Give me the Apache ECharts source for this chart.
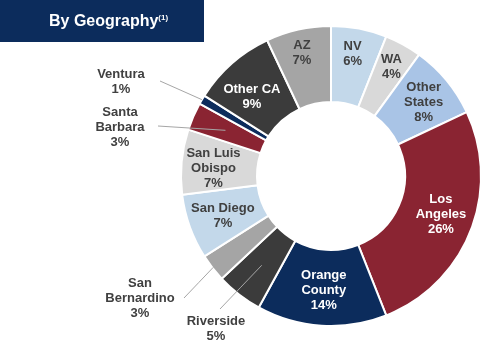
<!DOCTYPE html>
<html>
<head>
<meta charset="utf-8">
<script src="https://cdn.jsdelivr.net/npm/echarts@6/dist/echarts.min.js"></script>
<style>
html,body{margin:0;padding:0;background:#fff;}
#chart{width:503px;height:350px;}
</style>
</head>
<body>
<div id="chart"></div>
<script>
const categories = ['NV','WA','Other States','Los Angeles','Orange County','Riverside','San Bernardino','San Diego','San Luis Obispo','Santa Barbara','Ventura','Other CA','AZ'];
const displayNames = ['NV','WA','Other\nStates','Los\nAngeles','Orange\nCounty','Riverside','San\nBernardino','San Diego','San Luis\nObispo','Santa\nBarbara','Ventura','Other CA','AZ'];
const values = [6,4,8,26,14,5,3,7,7,3,1,9,7];
const title = 'By Geography';
const titleNote = '(1)';

const NAVY = '#0c2c5c', RED = '#8a2432', DARK = '#3b3b3b', MID = '#a5a5a5', LIGHT = '#d9d9d9', LBLUE = '#c3d8ea', SBLUE = '#a9c4e6';
const colors = {
  'NV': LBLUE, 'WA': LIGHT, 'Other States': SBLUE, 'Los Angeles': RED, 'Orange County': NAVY,
  'Riverside': DARK, 'San Bernardino': MID, 'San Diego': LBLUE, 'San Luis Obispo': LIGHT,
  'Santa Barbara': RED, 'Ventura': NAVY, 'Other CA': DARK, 'AZ': MID
};
const whiteText = ['Los Angeles','Orange County','Other CA'];
// layout: outside label centre, leader-line end near label, leader-line radius inside the ring
const outside = {
  'Ventura': [121, 82, 160, 81, 150],
  'Santa Barbara': [120, 127, 158, 126, 115],
  'San Bernardino': [140, 298, 184, 298, 149],
  'Riverside': [216, 329, 220, 309, 113]
};
// layout: small nudges of inside labels
const nudge = {
  'AZ': [-4, -11], 'NV': [0, -9], 'WA': [5, -8], 'Other States': [4, 0],
  'Los Angeles': [3, -4], 'San Luis Obispo': [-3, 3], 'San Diego': [0, 1], 'Other CA': [-3, 7]
};
const CX = 331, CY = 176, R0 = 74, R1 = 150;
const FONT = 'Liberation Sans, Arial, sans-serif';

const ringData = categories.map((c, i) => ({
  name: c,
  value: values[i],
  itemStyle: { color: colors[c] },
  label: {
    show: !outside[c],
    position: 'inside',
    color: whiteText.includes(c) ? '#ffffff' : '#404040'
  },
  labelLine: { show: false }
}));
const overlayData = categories.map((c, i) => ({
  name: c,
  value: values[i],
  label: { show: !!outside[c], position: 'outside', color: '#404040' },
  labelLine: { show: !!outside[c] }
}));

const labelCommon = {
  fontFamily: FONT,
  fontWeight: 'bold',
  fontSize: 13,
  lineHeight: 15,
  align: 'center',
  formatter: p => displayNames[p.dataIndex] + '\n' + p.value + '%'
};

const chart = echarts.init(document.getElementById('chart'), null, {renderer: 'canvas'});
chart.setOption({
  animation: false,
  backgroundColor: '#ffffff',
  graphic: [
    { type: 'rect', left: 0, top: 0, shape: { width: 204, height: 42 }, style: { fill: NAVY } },
    { type: 'text', left: 49, top: 14,
      style: { text: '{t|' + title + '}{s|' + titleNote + '}', fill: '#fff', rich: {
        t: { fontFamily: FONT, fontWeight: 'bold', fontSize: 16, fill: '#fff' },
        s: { fontFamily: FONT, fontWeight: 'bold', fontSize: 8, fill: '#fff', verticalAlign: 'top' }
      } } }
  ],
  series: [{
    type: 'pie',
    z: 2,
    center: [CX, CY],
    radius: [R0, R1],
    startAngle: 90,
    clockwise: true,
    avoidLabelOverlap: false,
    itemStyle: { borderColor: '#ffffff', borderWidth: 2 },
    label: labelCommon,
    labelLayout: function (params) {
      const n = nudge[categories[params.dataIndex]];
      return n ? { dx: n[0], dy: n[1] } : {};
    },
    data: ringData
  }, {
    type: 'pie',
    z: 5,
    silent: true,
    center: [CX, CY],
    radius: [R0, R1],
    startAngle: 90,
    clockwise: true,
    avoidLabelOverlap: false,
    itemStyle: { color: 'rgba(0,0,0,0)', borderWidth: 0 },
    label: labelCommon,
    labelLine: { lineStyle: { color: '#a6a6a6', width: 1 }, length: 10, length2: 10 },
    labelLayout: function (params) {
      const o = outside[categories[params.dataIndex]];
      if (!o) return {};
      const pts = params.labelLinePoints;
      let anchor = [o[2], o[3]];
      if (pts && pts[0]) {
        const k = o[4] / R1;
        anchor = [CX + (pts[0][0] - CX) * k, CY + (pts[0][1] - CY) * k];
      }
      return {
        x: o[0], y: o[1], align: 'center', verticalAlign: 'middle',
        labelLinePoints: [anchor, [(anchor[0] + o[2]) / 2, (anchor[1] + o[3]) / 2], [o[2], o[3]]]
      };
    },
    data: overlayData
  }]
});
</script>
</body>
</html>
